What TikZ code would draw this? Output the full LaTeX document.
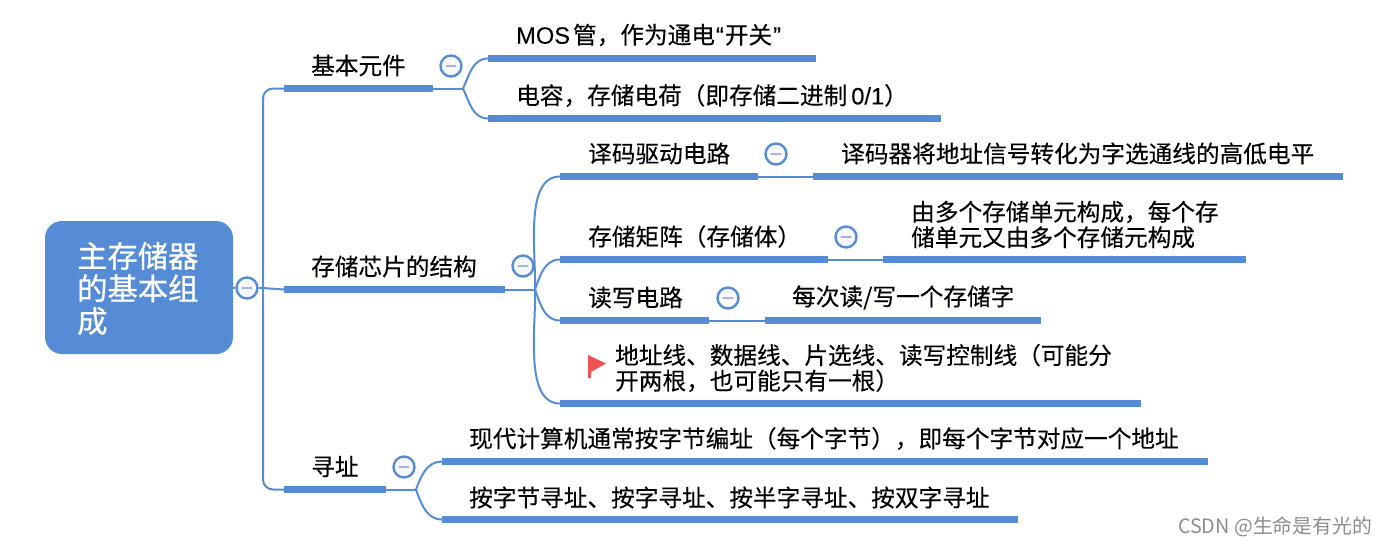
\documentclass[tikz,border=0pt]{standalone}
\usepackage{fontspec}
\setmainfont[FakeBold=0.2]{Noto Sans CJK SC}
\newfontfamily\latinfont[FakeBold=0.1]{Liberation Sans}
\newfontfamily\rootfont[FakeBold=0.7]{Noto Sans CJK SC}
\newfontfamily\markfont{Noto Sans CJK SC}
\definecolor{mapblue}{rgb}{0.333, 0.549, 0.835}
\definecolor{dashgrey}{rgb}{0.660, 0.700, 0.850}
\definecolor{knobfill}{rgb}{0.970, 0.970, 0.990}
\definecolor{flagred}{rgb}{0.945, 0.325, 0.325}
\tikzset{
  bar/.style={fill=mapblue,inner sep=0pt,minimum height=7pt,anchor=west},
  link/.style={mapblue,line width=2pt},
  topic/.style={anchor=west,inner sep=0pt,align=left,font=\fontsize{23.65}{25.5}\selectfont},
  knob/.style={circle,draw=mapblue,line width=2.4pt,fill=knobfill,inner sep=0pt,minimum size=21pt,
    path picture={\draw[dashgrey,line width=2.4pt,line cap=round] ([xshift=-4.5pt]path picture bounding box.center) -- ([xshift=4.5pt]path picture bounding box.center);}},
}

\begin{document}
\begin{tikzpicture}[x=1pt,y=-1pt]
\useasboundingbox (0,0) rectangle (1386,547);

% root
\node [fill=mapblue,rounded corners=17pt,inner sep=0pt,minimum width=188pt,minimum height=133pt] (root) at (139,287.5) {};
\node [anchor=west,inner sep=0pt,align=left,text=white,font=\rootfont\fontsize{30.3}{32.5}\selectfont] (roottext) at (77,288.5) {主存储器\\的基本组\\成};
\coordinate (trunk) at (263,288);
\node [knob] (kroot) at (247,288) {};

% first level bars
\node [bar,minimum width=149pt] (jiben) at (284,88.5) {};
\node [bar,minimum width=221pt] (xinpian) at (284,289.5) {};
\node [bar,minimum width=102pt] (xunzhi) at (284,489.5) {};
\node [topic] (tjiben) at (311,65.5) {基本元件};
\node [topic] (txinpian) at (311,266.5) {存储芯片的结构};
\node [topic] (txunzhi) at (311,466.5) {寻址};

% basic parts
\node [bar,minimum width=328pt] (mos) at (488,58.5) {};
\node [bar,minimum width=453pt] (dianrong) at (488,118.5) {};
\node [topic] (tmos) at (516,35) {{\latinfont MOS}\hspace{3pt}管，作为通电{\latinfont \hspace{1pt}“\hspace{1pt}}开关{\latinfont \hspace{1pt}”}};
\node [topic] (tdianrong) at (516,95.5) {电容，存储电荷（即存储二进制\hspace{4pt}{\latinfont 0/1}）};
\coordinate (forkjiben) at (463,88.5);

% chip structure
\node [bar,minimum width=198pt] (yima) at (560,176.5) {};
\node [bar,minimum width=530pt] (yimaq) at (813,176.5) {};
\node [bar,minimum width=268pt] (juzhen) at (560,259.5) {};
\node [bar,minimum width=363pt] (danyuan) at (883,259.5) {};
\node [bar,minimum width=149pt] (duxie) at (560,320.5) {};
\node [bar,minimum width=276pt] (meici) at (765,320.5) {};
\node [bar,minimum width=581pt] (dizhi) at (560,403.5) {};
\node [topic] (tyima) at (588,153.5) {译码驱动电路};
\node [topic] (tyimaq) at (841,153.5) {译码器将地址信号转化为字选通线的高低电平};
\node [topic] (tjuzhen) at (588,236.5) {存储矩阵（存储体）};
\node [topic] (tdanyuan) at (911,224.5) {由多个存储单元构成，每个存\\储单元又由多个存储元构成};
\node [topic] (tduxie) at (588,297.5) {读写电路};
\node [topic] (tmeici) at (792,297.5) {每次读/写一个存储字};
\node [topic] (tdizhi) at (615,368) {地址线、数据线、片选线、读写控制线（可能分\\开两根，也可能只有一根）};
\coordinate (forkxinpian) at (535,289.5);

% addressing
\node [bar,minimum width=766pt] (xiandai) at (442,461.5) {};
\node [bar,minimum width=576pt] (anzi) at (442,519.5) {};
\node [topic] (txiandai) at (469,438.5) {现代计算机通常按字节编址（每个字节），即每个字节对应一个地址};
\node [topic] (tanzi) at (469,497.5) {按字节寻址、按字寻址、按半字寻址、按双字寻址};
\coordinate (forkxunzhi) at (416,489.5);

% connectors
\draw [link] (root.east) -- (kroot.west);
\draw [link] (kroot.east) -- (trunk);
\draw [link,rounded corners=10pt] (trunk) |- (jiben.west);
\draw [link,rounded corners=10pt] (trunk) |- (xunzhi.west);
\draw [link] (trunk) -- (xinpian.west);

\draw [link] (jiben.east) -- (forkjiben);
\draw [link] (forkjiben) to[out=65,in=180] (mos.west);
\draw [link] (forkjiben) to[out=-65,in=180] (dianrong.west);

\draw [link] (xinpian.east) -- (forkxinpian);
\draw [link] (forkxinpian) to[out=88,in=180,looseness=0.8] (yima.west);
\draw [link] (forkxinpian) to[out=70,in=180] (juzhen.west);
\draw [link] (forkxinpian) to[out=-70,in=180] (duxie.west);
\draw [link] (forkxinpian) to[out=-88,in=180,looseness=0.8] (dizhi.west);
\draw [link] (yima.east) -- (yimaq.west);
\draw [link] (juzhen.east) -- (danyuan.west);
\draw [link] (duxie.east) -- (meici.west);

\draw [link] (xunzhi.east) -- (forkxunzhi);
\draw [link] (forkxunzhi) to[out=70,in=180] (xiandai.west);
\draw [link] (forkxunzhi) to[out=-70,in=180] (anzi.west);

% collapse buttons
\node [knob] (kjiben) at (451,66) {};
\node [knob] (kxinpian) at (523,266) {};
\node [knob] (kxunzhi) at (404,467) {};
\node [knob] (kyima) at (776,154) {};
\node [knob] (kjuzhen) at (846,237) {};
\node [knob] (kduxie) at (728,298) {};

% flag
\fill [flagred] (588,355) -- (606,363.5) -- (591,372) -- (591,378) -- (588,378) -- cycle;

% watermark
\node [anchor=east,inner sep=0pt,text=black!45,font=\markfont\fontsize{19.8}{19.8}\selectfont] (mark) at (1372,527) {CSDN @生命是有光的};
\end{tikzpicture}
\end{document}
